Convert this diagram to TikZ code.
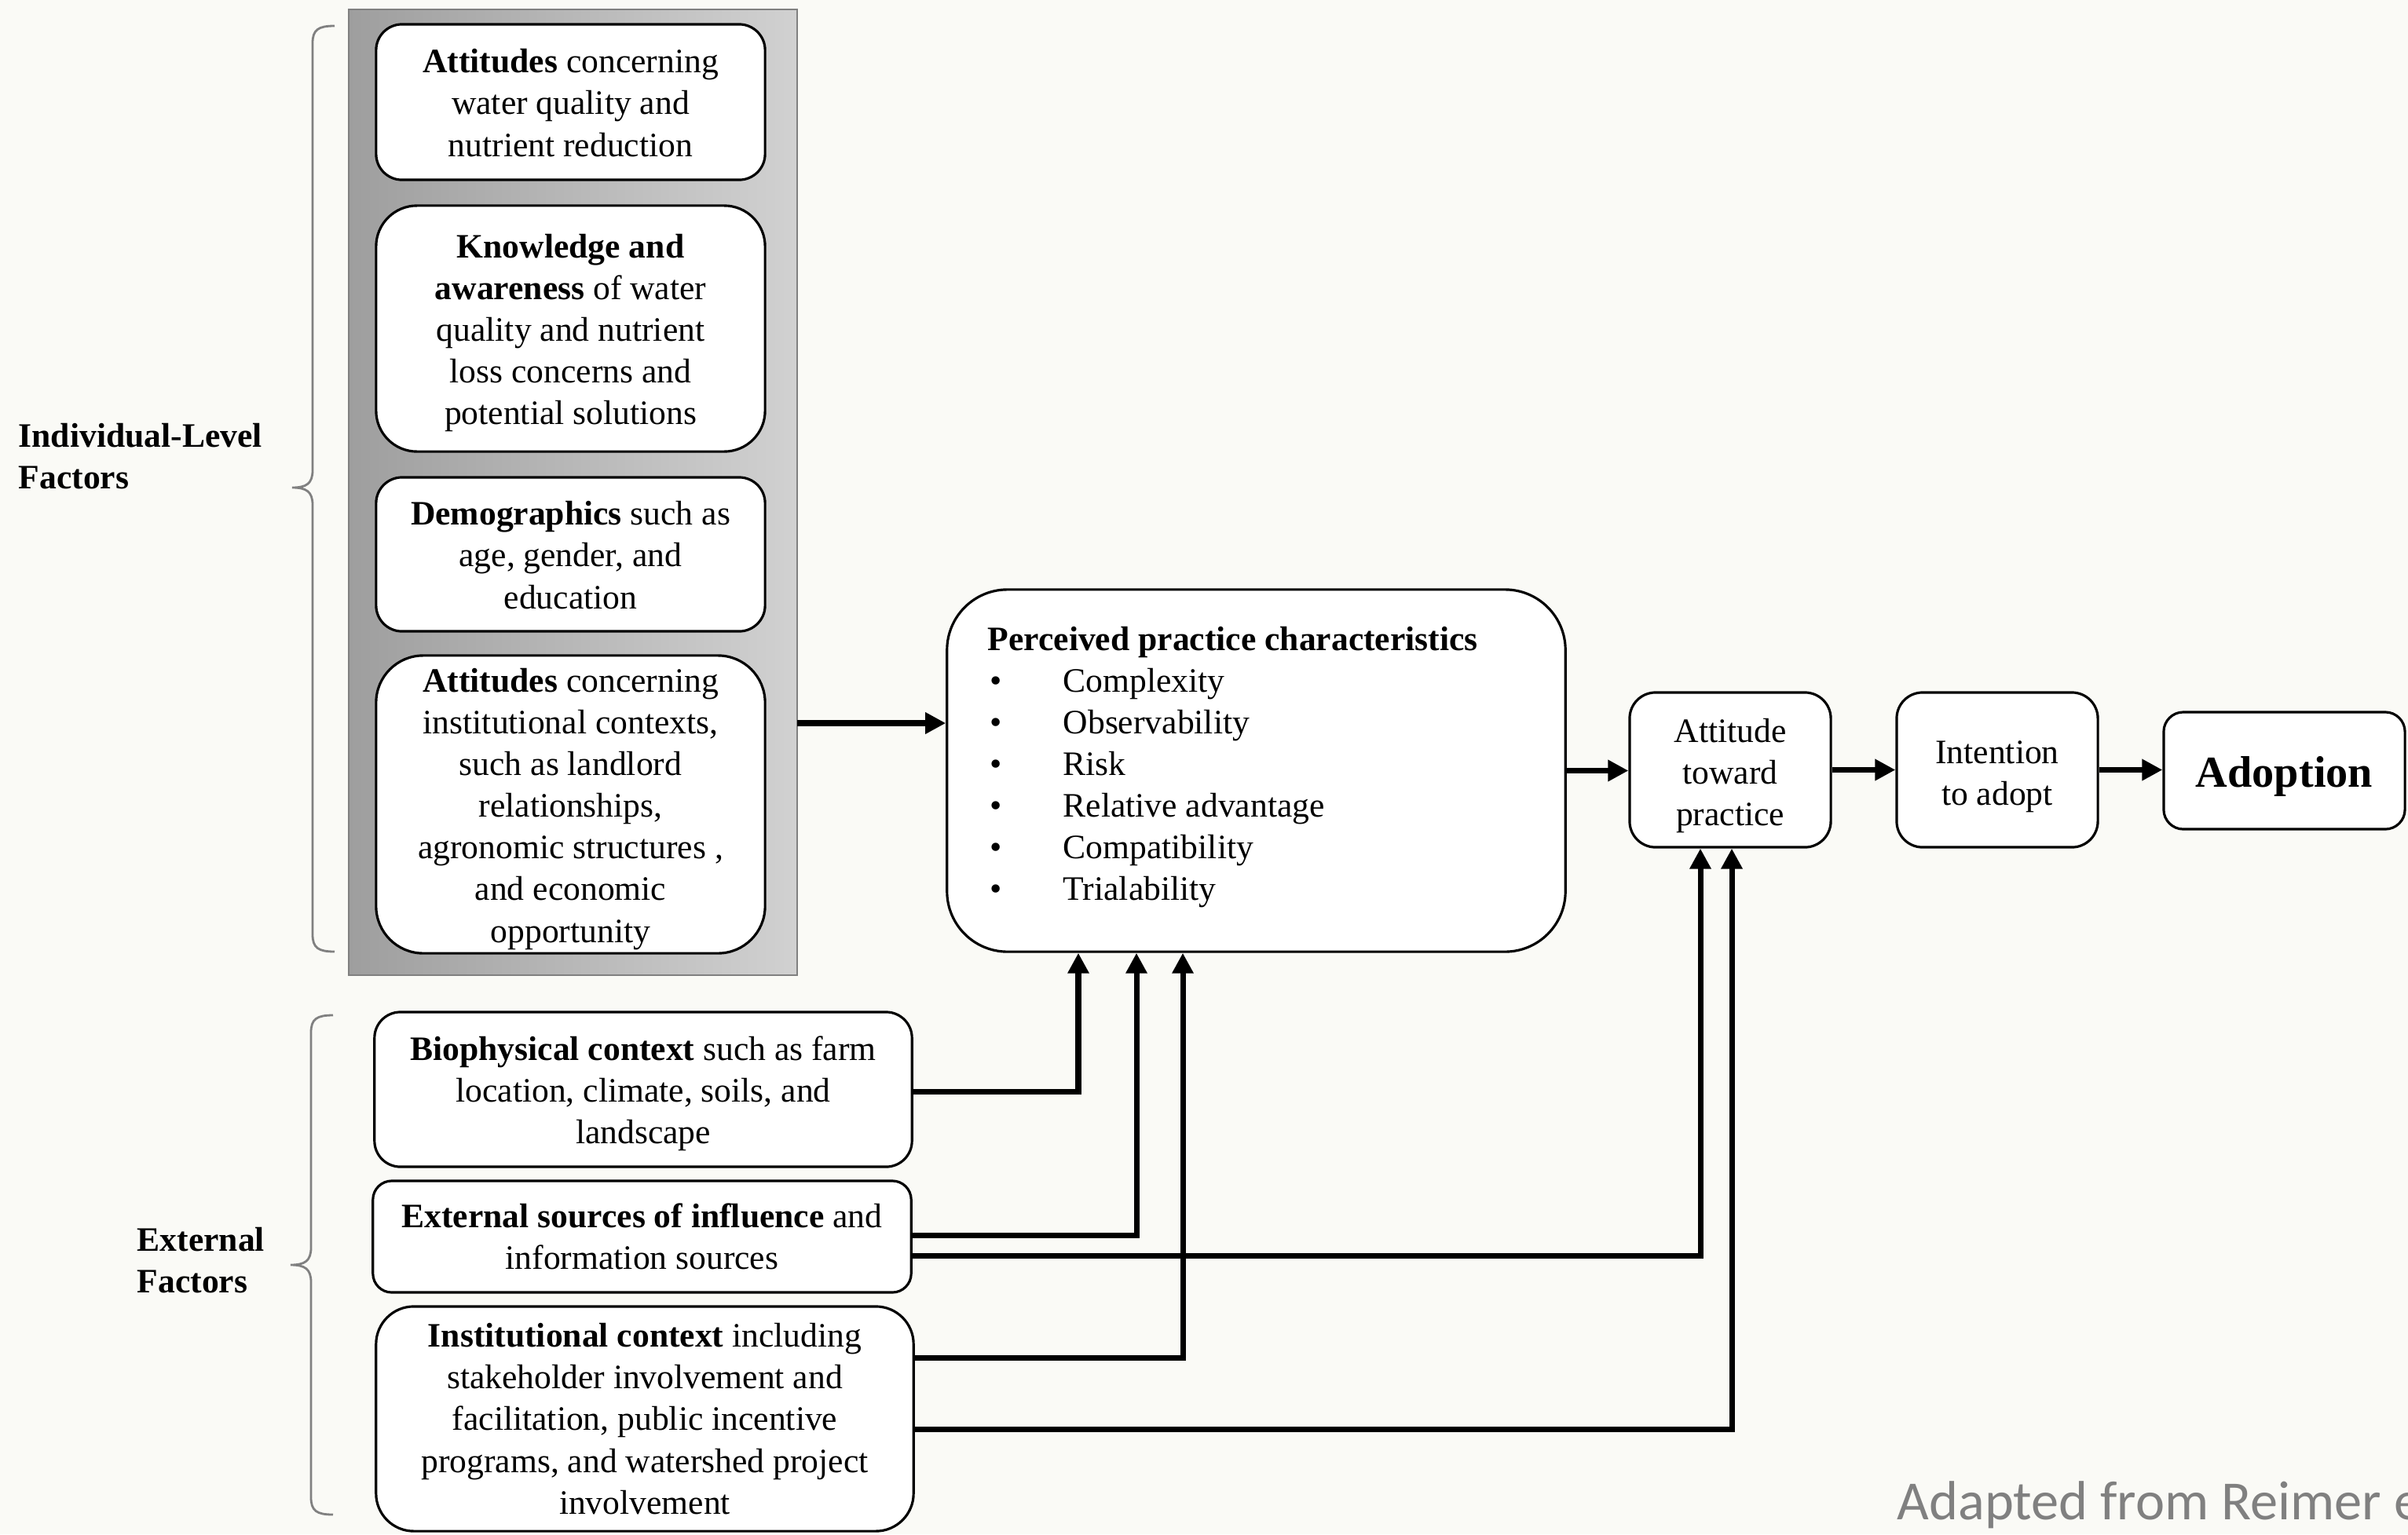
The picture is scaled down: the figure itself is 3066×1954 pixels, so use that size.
\documentclass[tikz,border=0pt]{standalone}
\usepackage{fontspec}
\setmainfont{Liberation Serif}
\newfontfamily\carl{Carlito}
\usetikzlibrary{arrows.meta}
\newcommand\bodyfont{\fontsize{12.4}{15.1}\selectfont}
\newcommand\pbul{\makebox[0.96cm][l]{\hspace{0.03cm}\textbullet}}
\newcommand\tup[1]{\rule{0pt}{#1}}
\definecolor{bgcol}{RGB}{250,250,246}
\begin{document}
\begin{tikzpicture}[x=0.01cm,y=-0.01cm,
  box/.style={draw=black, line width=0.9pt, fill=white, align=center, inner sep=0pt, font=\bodyfont},
  arr/.style={line width=2pt, -{Triangle[length=0.26cm,width=0.26cm]}},
  brc/.style={draw=black!50, line width=0.8pt},
  lab/.style={font=\bodyfont\bfseries, align=left, anchor=west, inner sep=0pt}]
\useasboundingbox (0,0) rectangle (3066,1954);
\fill[bgcol] (0,0) rectangle (3066,1954);

% grey panel
\node[draw=black!50, line width=0.6pt, left color=black!38, right color=black!18,
      minimum width=5.71cm, minimum height=12.3cm, inner sep=0pt] (panel) at (729.5,627) {};

% individual-level boxes
\node[box, minimum width=4.95cm, minimum height=1.98cm, rounded corners=0.33cm] (A1) at (726.5,130)
  {\tup{9.2pt}\textbf{Attitudes} concerning\\water quality and\\nutrient reduction};
\node[box, minimum width=4.95cm, minimum height=3.13cm, rounded corners=0.52cm] (K) at (726.5,418.5)
  {\tup{11.9pt}\textbf{Knowledge and}\\\textbf{awareness} of water\\quality and nutrient\\loss concerns and\\potential solutions};
\node[box, minimum width=4.95cm, minimum height=1.96cm, rounded corners=0.33cm] (D) at (726.5,706)
  {\tup{9.2pt}\textbf{Demographics} such as\\age, gender, and\\education};
\node[box, minimum width=4.95cm, minimum height=3.79cm, rounded corners=0.6cm] (A2) at (726.5,1024.5)
  {\tup{11.9pt}\textbf{Attitudes} concerning\\institutional contexts,\\such as landlord\\relationships,\\agronomic structures ,\\and economic\\opportunity};

% external boxes
\node[box, minimum width=6.84cm, minimum height=1.97cm, rounded corners=0.33cm] (B) at (819,1387.5)
  {\tup{11.9pt}\textbf{Biophysical context} such as farm\\location, climate, soils, and\\landscape};
\node[box, minimum width=6.85cm, minimum height=1.42cm, rounded corners=0.24cm] (E) at (817.5,1575)
  {\textbf{External sources of influence} and\\information sources};
\node[box, minimum width=6.84cm, minimum height=2.86cm, rounded corners=0.48cm] (I) at (821,1807)
  {\textbf{Institutional context} including\\stakeholder involvement and\\facilitation, public incentive\\programs, and watershed project\\involvement};

% central chain
\node[box, minimum width=7.87cm, minimum height=4.61cm, rounded corners=0.77cm] (P) at (1599.5,981.5) {};
\node[anchor=west, align=left, inner sep=0pt, font=\bodyfont] (plist) at (1257,977)
  {\textbf{Perceived practice characteristics}\\
   \pbul Complexity\\
   \pbul Observability\\
   \pbul Risk\\
   \pbul Relative advantage\\
   \pbul Compatibility\\
   \pbul Trialability};
\node[box, minimum width=2.56cm, minimum height=1.97cm, rounded corners=0.33cm] (AT) at (2203,980.5)
  {\tup{13pt}Attitude\\toward\\practice};
\node[box, minimum width=2.56cm, minimum height=1.97cm, rounded corners=0.33cm] (IN) at (2543,980.5)
  {\tup{13pt}Intention\\to adopt};
\node[box, minimum width=3.07cm, minimum height=1.49cm, rounded corners=0.25cm,
      font=\fontsize{16}{19}\selectfont\bfseries] (AD) at (2908.5,981.5) {\tup{15.3pt}Adoption};

% braces
\draw[brc] (426,33) .. controls (405,33) and (398,38) .. (398,55) -- (398,599)
  .. controls (398,616) and (390,621) .. (372,621)
  .. controls (390,621) and (398,626) .. (398,643) -- (398,1190)
  .. controls (398,1207) and (405,1212) .. (426,1212);
\draw[brc] (424,1293) .. controls (403,1293) and (396,1298) .. (396,1315) -- (396,1589)
  .. controls (396,1606) and (388,1611) .. (370,1611)
  .. controls (388,1611) and (396,1616) .. (396,1633) -- (396,1907)
  .. controls (396,1924) and (403,1929) .. (424,1929);

% group labels
\node[lab] (l1) at (23,581) {Individual-Level\\Factors};
\node[lab] (l2) at (174,1605) {External\\Factors};

% connectors
\coordinate (a2out) at (1015,921);
\draw[arr] (a2out) -- (a2out -| P.west);
\draw[arr] (P.east) -- (P.east -| AT.west);
\draw[arr] (AT.east) -- (IN.west);
\draw[arr] (IN.east) -- (IN.east -| AD.west);

\coordinate (p1) at (1373,0);
\coordinate (p2) at (1447,0);
\coordinate (p3) at (1506,0);
\coordinate (t1) at (2165,0);
\coordinate (t2) at (2205,0);
\draw[arr] ([yshift=-0.025cm]B.east) -| (p1 |- P.south);
\draw[arr] ([yshift=0.02cm]E.east) -| (p2 |- P.south);
\draw[arr] ([yshift=-0.24cm]E.east) -| (t1 |- AT.south);
\draw[arr] ([yshift=0.77cm]I.east) -| (p3 |- P.south);
\draw[arr] ([yshift=-0.13cm]I.east) -| (t2 |- AT.south);

% credit (cut off at the right edge, as in the source)
\node[anchor=base west, inner sep=0pt, font=\carl\fontsize{20}{24}\selectfont, text=black!50] (credit)
  at (2415,1935) {Adapted from Reimer et al.};
\end{tikzpicture}
\end{document}
